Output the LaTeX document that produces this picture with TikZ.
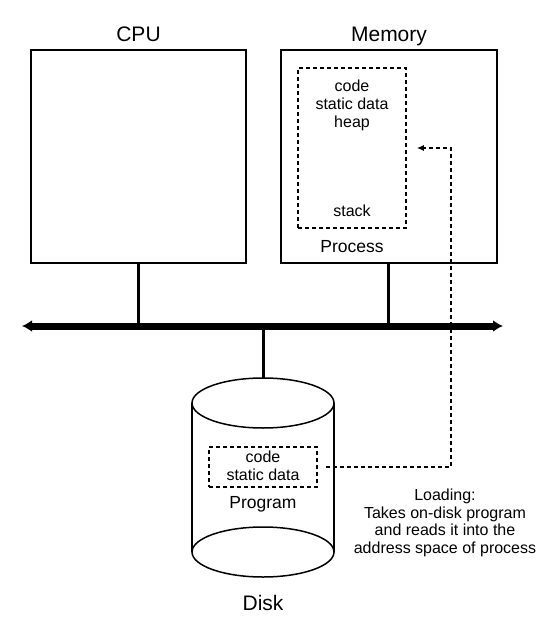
\documentclass[tikz,border=0pt]{standalone}
\usepackage{fontspec}
\setmainfont{Liberation Sans}
\usetikzlibrary{positioning,arrows.meta,calc}

\begin{document}
\begin{tikzpicture}[x=1pt, y=-1pt,
    box/.style={draw, line width=1.5pt, minimum width=215pt, minimum height=213pt},
    dbox/.style={draw, line width=1.5pt, dash pattern=on 4pt off 3pt},
    bigtext/.style={font=\fontsize{21}{24}\selectfont, inner sep=0pt, text depth=0pt},
    labeltext/.style={font=\fontsize{17.5}{20}\selectfont, inner sep=0pt},
    smalltext/.style={font=\fontsize{16}{18}\selectfont, inner sep=0pt, align=center},
    stem/.style={line width=3pt}]
    \useasboundingbox (0,0) rectangle (546,620);

    % CPU and Memory
    \node[box] (cpu) at (138.5,156.5) {};
    \node[box, minimum width=216pt] (mem) at (389,156.5) {};
    \node[bigtext, above=8pt of cpu] (cpulabel) {CPU};
    \node[bigtext, above=8pt of mem] (memlabel) {Memory};

    % Process in memory
    \node[dbox, minimum width=108pt, minimum height=160pt] (proc) at (352,148) {};
    \node[smalltext, anchor=base] (heap) at (352,128) {code\\static data\\heap};
    \node[smalltext, anchor=base] (stack) at (352,217) {stack};
    \node[labeltext, anchor=base] (proclabel) at (352,252) {Process};

    % Bus
    \coordinate (busL) at (22,326);
    \coordinate (busR) at (503,326);
    \coordinate (memstem) at (388,326);
    \draw[line width=7pt, {Latex[length=10pt,width=12pt]}-{Latex[length=10pt,width=12pt]}] (busL) -- (busR);
    \draw[stem] (cpu.south) -- (cpu.south |- busL);
    \draw[stem] (mem.south -| memstem) -- (memstem);

    % Disk
    \coordinate (disktop) at (263,403);
    \coordinate (diskbot) at (263,552);
    \draw[stem] (disktop |- busL) -- (263,378);
    \draw[line width=1.5pt] (disktop) ellipse [x radius=71, y radius=25];
    \draw[line width=1.5pt] (diskbot) ellipse [x radius=71, y radius=25];
    \draw[line width=1.5pt] ($(disktop)+(-71,0)$) -- ($(diskbot)+(-71,0)$);
    \draw[line width=1.5pt] ($(disktop)+(71,0)$) -- ($(diskbot)+(71,0)$);
    \node[dbox, minimum width=108pt, minimum height=40pt] (prog) at (263,467) {};
    \node[smalltext, anchor=base] (progtext) at (263,480) {code\\static data};
    \node[labeltext, anchor=base] (proglabel) at (263,508) {Program};
    \node[bigtext, anchor=base] (disklabel) at (263,610) {Disk};

    % Loading
    \draw[dbox, -{Latex[length=7pt,width=6pt]}, shorten <=8pt, shorten >=10pt]
        (prog.east) -| ($(proc.east)+(44,0)$) -- (proc.east);
    \node[smalltext, anchor=base, font=\fontsize{16}{17.5}\selectfont] (loading) at (445,553)
        {Loading:\\Takes on-disk program\\and reads it into the\\address space of process};
\end{tikzpicture}
\end{document}
